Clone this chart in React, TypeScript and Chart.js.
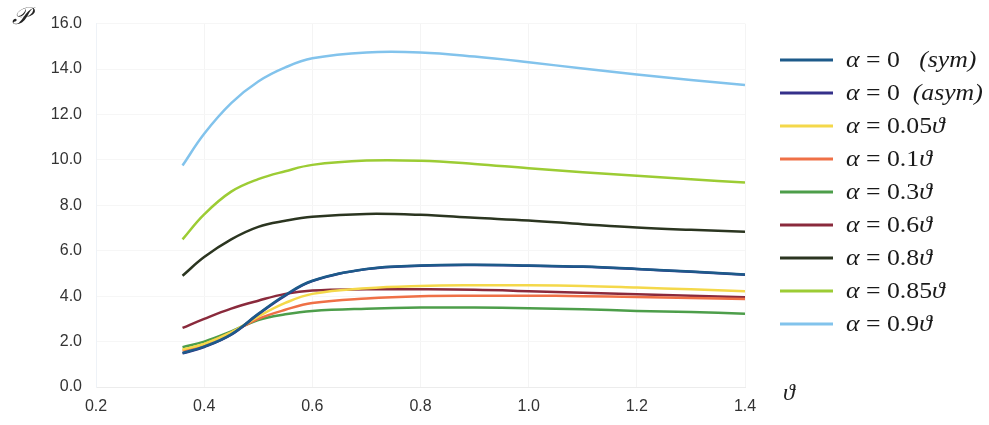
import React, { useEffect, useRef } from "react";
import { Chart, registerables } from "chart.js";
Chart.register(...registerables);

// shared abscissa (theta)
const THETA = [0.36, 0.4, 0.45, 0.5, 0.55, 0.6, 0.7, 0.8, 0.9, 1.0, 1.1, 1.2, 1.3, 1.4];

const P_SYM = [1.5, 1.78, 2.32, 3.22, 4.05, 4.68, 5.2, 5.35, 5.38, 5.35, 5.3, 5.2, 5.08, 4.95];
const P_ASYM = [1.48, 1.76, 2.3, 3.2, 4.02, 4.66, 5.19, 5.34, 5.37, 5.34, 5.29, 5.19, 5.07, 4.94];
const P_005 = [1.65, 1.9, 2.4, 3.1, 3.7, 4.1, 4.35, 4.45, 4.48, 4.48, 4.45, 4.38, 4.3, 4.22];
const P_01 = [1.6, 1.88, 2.4, 3.0, 3.4, 3.7, 3.9, 4.0, 4.02, 4.02, 4.0, 3.96, 3.92, 3.88];
const P_03 = [1.75, 2.0, 2.45, 2.95, 3.2, 3.35, 3.45, 3.5, 3.5, 3.47, 3.42, 3.35, 3.3, 3.23];
const P_06 = [2.6, 3.0, 3.45, 3.8, 4.1, 4.25, 4.3, 4.3, 4.28, 4.22, 4.15, 4.08, 4.02, 3.95];
const P_08 = [4.9, 5.72, 6.5, 7.05, 7.32, 7.5, 7.62, 7.58, 7.45, 7.33, 7.17, 7.02, 6.92, 6.84];
const P_085 = [6.5, 7.6, 8.6, 9.15, 9.5, 9.78, 9.97, 9.96, 9.82, 9.63, 9.46, 9.3, 9.15, 9.0];
const P_09 = [9.75, 11.15, 12.5, 13.45, 14.07, 14.47, 14.73, 14.73, 14.55, 14.3, 14.02, 13.76, 13.52, 13.3];

const X_TICKS = [0.2, 0.4, 0.6, 0.8, 1.0, 1.2, 1.4];
const Y_TICKS = [0, 2, 4, 6, 8, 10, 12, 14, 16];

// legend labels: [alpha value text, suffix (italic)]
const LABEL_VALUES = ["0  ", "0 ", "0.05", "0.1", "0.3", "0.6", "0.8", "0.85", "0.9"];
const LABEL_SUFFIX = ["(sym)", "(asym)", "ϑ", "ϑ", "ϑ", "ϑ", "ϑ", "ϑ", "ϑ"];
const COLORS = ["#1d5a8a", "#35308a", "#f4d84a", "#ef7046", "#4d9e4a", "#8a2a3c", "#2b3520", "#9ccc34", "#82c3ec"];
const SERIES = [P_SYM, P_ASYM, P_005, P_01, P_03, P_06, P_08, P_085, P_09];

const mathLegend = {
  id: "mathLegend",
  afterDraw(chart: any) {
    const ctx = chart.ctx as CanvasRenderingContext2D;
    ctx.save();
    const x0 = 780, x1 = 833, tx = 846, y0 = 60, dy = 33;
    SERIES.forEach((_, i) => {
      const y = y0 + i * dy;
      ctx.strokeStyle = COLORS[i];
      ctx.lineWidth = 3;
      ctx.beginPath();
      ctx.moveTo(x0, y);
      ctx.lineTo(x1, y);
      ctx.stroke();
      ctx.fillStyle = "#1a1a1a";
      ctx.textBaseline = "middle";
      ctx.textAlign = "left";
      ctx.save();
      ctx.translate(tx, y + 1);
      ctx.scale(1.12, 1);
      let x = 0;
      const parts: [string, boolean][] = [
        ["α", true],
        [" = " + LABEL_VALUES[i], false],
        [(i < 2 ? " " : "") + LABEL_SUFFIX[i], true],
      ];
      parts.forEach(([t, it]) => {
        ctx.font = (it ? "italic " : "") + "23px 'Liberation Serif', 'DejaVu Serif', serif";
        ctx.fillText(t, x, 0);
        x += ctx.measureText(t).width;
      });
      ctx.restore();
    });
    // axis titles
    ctx.fillStyle = "#222";
    ctx.font = "italic 24px 'DejaVu Serif', serif";
    ctx.textAlign = "left";
    ctx.textBaseline = "middle";
    ctx.fillText("𝒫", 12, 18);
    ctx.font = "italic 24px 'Liberation Serif', 'DejaVu Serif', serif";
    ctx.fillText("ϑ", 783, 394);
    ctx.restore();
  },
};

export default function App() {
  const ref = useRef<HTMLCanvasElement>(null);
  useEffect(() => {
    if (!ref.current) return;
    const datasets = SERIES.map((vals, i) => ({
      label: "α = " + LABEL_VALUES[i].trim() + " " + LABEL_SUFFIX[i],
      data: vals.map((v, k) => ({ x: THETA[k], y: v })),
      borderColor: COLORS[i],
      backgroundColor: COLORS[i],
      borderWidth: 2.5,
      pointRadius: 0,
      tension: 0.4,
      fill: false,
    }));
    const chart = new Chart(ref.current, {
      type: "line",
      data: { datasets },
      options: {
        animation: false,
        responsive: false,
        maintainAspectRatio: false,
        layout: { padding: { left: 0, right: 244, top: 16, bottom: 0 } },
        plugins: { legend: { display: false }, tooltip: { enabled: false } },
        scales: {
          x: {
            type: "linear",
            min: 0.2,
            max: 1.4,
            afterBuildTicks: (s: any) => { s.ticks = X_TICKS.map((v) => ({ value: v })); },
            afterFit: (s: any) => { s.height = 38; },
            ticks: {
              callback: (v: any) => Number(v).toFixed(1),
              color: "#333",
              font: { family: "'Liberation Sans', Arial, sans-serif", size: 16 },
              padding: 10,
              maxRotation: 0,
            },
            grid: { color: "#f4f4f4", drawTicks: false },
            border: { color: "#ececec" },
          },
          y: {
            min: 0,
            max: 16,
            afterBuildTicks: (s: any) => { s.ticks = Y_TICKS.map((v) => ({ value: v })); },
            afterFit: (s: any) => { s.width = 96; },
            ticks: {
              callback: (v: any) => Number(v).toFixed(1),
              color: "#333",
              font: { family: "'Liberation Sans', Arial, sans-serif", size: 16 },
              padding: 14,
            },
            grid: { color: "#f6f6f6", drawTicks: false },
            border: { color: "#eef2f7" },
          },
        },
      },
      plugins: [mathLegend],
    });
    return () => chart.destroy();
  }, []);
  return (
    <div style={{ position: "fixed", left: 0, top: 0, width: 989, height: 425, background: "#fff" }}>
      <canvas ref={ref} width={989} height={425} style={{ width: 989, height: 425 }} />
    </div>
  );
}
